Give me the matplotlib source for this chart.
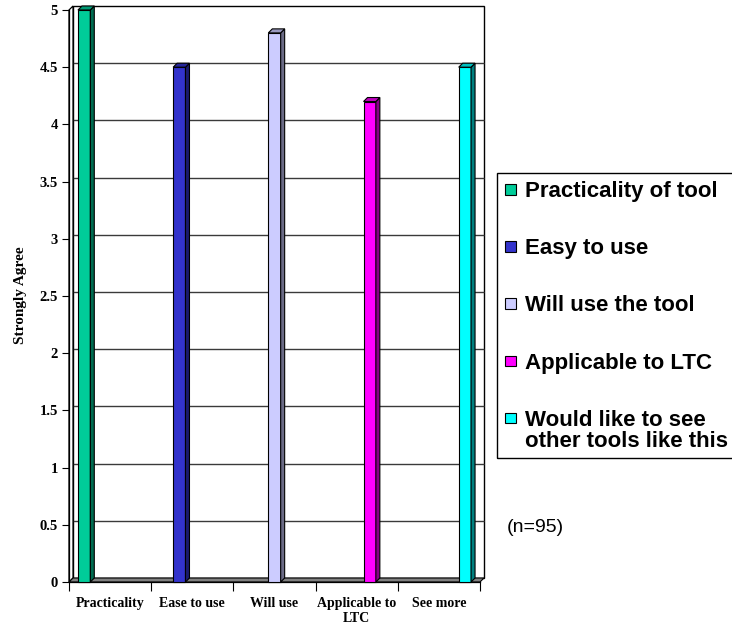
import matplotlib
matplotlib.use('Agg')
import matplotlib.pyplot as plt
from matplotlib.patches import Polygon, Rectangle

# ---- data ----
categories = ['Practicality', 'Ease to use', 'Will use', 'Applicable to\nLTC', 'See more']
series_names = ['Practicality of tool', 'Easy to use', 'Will use the tool',
                'Applicable to LTC', 'Would like to see\nother tools like this']
scores = [5.0, 4.5, 4.8, 4.2, 4.5]
y_ticks = [0, 0.5, 1, 1.5, 2, 2.5, 3, 3.5, 4, 4.5, 5]
y_tick_labels = ['0', '0.5', '1', '1.5', '2', '2.5', '3', '3.5', '4', '4.5', '5']
y_title = 'Strongly Agree'
note = '(n=95)'

# ---- styles ----
face_colors = ['#00CC99', '#3333CC', '#CCCCFF', '#FF00FF', '#00FFFF']
side_colors = ['#006B50', '#1A1A6B', '#6B6B86', '#860086', '#008080']
top_colors = ['#009973', '#262699', '#9999BF', '#BF00BF', '#00BFBF']

W, H = 732, 628
fig = plt.figure(figsize=(W / 100, H / 100), dpi=100)
ax = fig.add_axes([69 / W, (H - 582) / H, (480 - 69) / W, (582 - 10) / H])
ax.set_xlim(-0.5, 4.5)
ax.set_ylim(0, 5)
ax.patch.set_visible(False)

depth_px = 4
dx = depth_px * 5 / (480 - 69)
dy = depth_px * 5 / (582 - 10)
x0w, x1w = -0.5, 4.5

# back wall
ax.add_patch(Rectangle((x0w + dx, dy), x1w - x0w, 5, facecolor='white', edgecolor='black',
                       lw=1.0, zorder=0, clip_on=False))
for v in y_ticks[1:-1]:
    ax.plot([x0w + dx, x1w + dx], [v + dy, v + dy], color='#3a3a3a', lw=1.0,
            zorder=1, clip_on=False, solid_capstyle='butt')
# left wall
ax.add_patch(Polygon([(x0w, 0), (x0w + dx, dy), (x0w + dx, 5 + dy), (x0w, 5)], closed=True,
                     facecolor='white', edgecolor='black', lw=0.9, zorder=1, clip_on=False))
# floor
ax.add_patch(Polygon([(x0w, 0), (x1w, 0), (x1w + dx, dy), (x0w + dx, dy)], closed=True,
                     facecolor='#808080', edgecolor='black', lw=0.8, zorder=2, clip_on=False))

# bars: series i appears in category i
bw = 0.15
step = 0.158
for i, (name, val) in enumerate(zip(series_names, scores)):
    xpos = i + (i - 2) * step
    bars = ax.bar([xpos], [val], width=bw, color=face_colors[i], edgecolor='black',
                  lw=0.8, zorder=4, clip_on=False, label=name)
    for r in bars:
        bx0 = r.get_x()
        bx1 = bx0 + r.get_width()
        h = r.get_height()
        ax.add_patch(Polygon([(bx1, 0), (bx1 + dx, dy), (bx1 + dx, h + dy), (bx1, h)], closed=True,
                             facecolor=side_colors[i], edgecolor='black', lw=0.8,
                             zorder=4, clip_on=False))
        ax.add_patch(Polygon([(bx0, h), (bx1, h), (bx1 + dx, h + dy), (bx0 + dx, h + dy)], closed=True,
                             facecolor=top_colors[i], edgecolor='black', lw=0.8,
                             zorder=4, clip_on=False))

for s in ['top', 'right']:
    ax.spines[s].set_visible(False)
for s in ['left', 'bottom']:
    ax.spines[s].set_color('black')
    ax.spines[s].set_linewidth(0.9)

serif = 'Liberation Serif'
sans = 'Liberation Sans'
ax.set_yticks(y_ticks)
ax.set_yticklabels(y_tick_labels, fontfamily=serif, fontweight='bold', fontsize=10.5)
ax.tick_params(axis='y', direction='out', length=5, width=0.8, pad=3.0, color='black')

ax.set_xticks([x0w + k for k in range(6)])
ax.set_xticklabels([''] * 6)
ax.tick_params(axis='x', which='major', direction='out', length=6.5, width=0.8, color='black')
ax.set_xticks(range(len(categories)), minor=True)
ax.set_xticklabels(categories, minor=True, fontfamily=serif, fontweight='bold', fontsize=10,
                   linespacing=1.2)
ax.tick_params(axis='x', which='minor', length=0, pad=10.5)

fig.text(21 / W, 1 - 295 / H, y_title, rotation=90, ha='center', va='center',
         fontfamily=serif, fontweight='bold', fontsize=11)

# legend (drawn by hand to match layout)
fig.patches.append(Rectangle((497 / W, 1 - 458 / H), (760 - 497) / W, (458 - 173) / H,
                             transform=fig.transFigure, fill=False, edgecolor='black', lw=1.0))
line_gap = 21.5
for i, name in enumerate(series_names):
    cy = 189 + i * 57.2
    fig.patches.append(Rectangle((505 / W, 1 - (cy + 5.5) / H), 10.5 / W, 10.5 / H,
                                 transform=fig.transFigure, facecolor=face_colors[i],
                                 edgecolor='black', lw=0.8))
    for k, line in enumerate(name.split('\n')):
        fig.text(525 / W, 1 - (cy + 8 + k * line_gap) / H, line, ha='left', va='baseline',
                 fontfamily=sans, fontweight='bold', fontsize=16)

fig.text(507 / W, 1 - 532 / H, note, ha='left', va='baseline', fontfamily=sans, fontsize=14)

fig.savefig('out.png', dpi=100)
